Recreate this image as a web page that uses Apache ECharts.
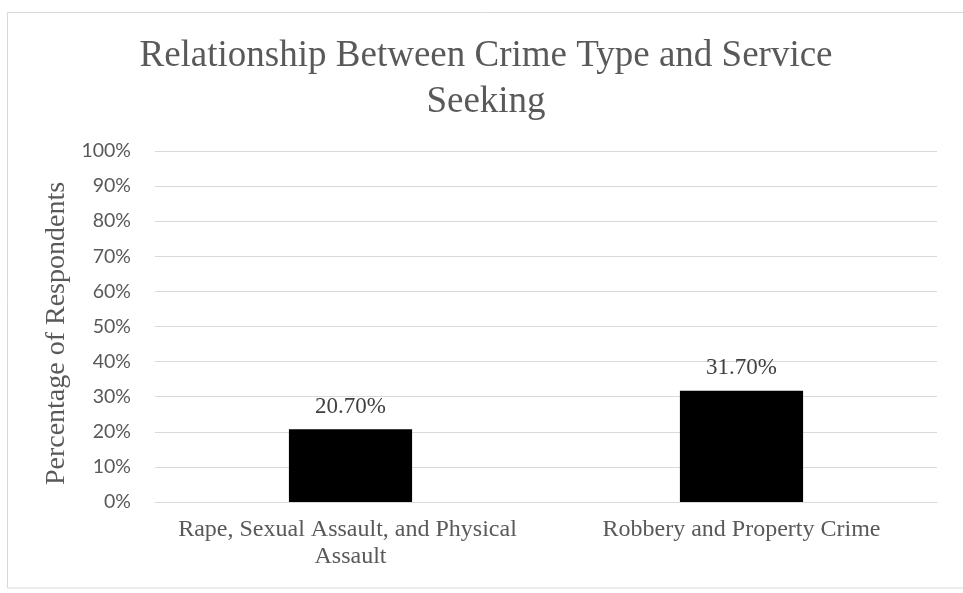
<!DOCTYPE html>
<html>
<head>
<meta charset="utf-8">
<title>Relationship Between Crime Type and Service Seeking</title>
<script src="https://cdn.jsdelivr.net/npm/echarts@6/dist/echarts.min.js"></script>
<style>
  html, body { margin: 0; padding: 0; background: #ffffff; }
  #chart { width: 963px; height: 593px; }
</style>
</head>
<body>
<div id="chart"></div>
<script>
// Crime categories and share of respondents who sought services (%)
const categories = ['Rape, Sexual Assault, and Physical Assault', 'Robbery and Property Crime'];
const seekingPercent = [20.7, 31.7];

// Value axis ticks (%)
const yMin = 0;
const yMax = 100;
const yStep = 10;

const TEXT = '#595959';
const SERIF = '"Liberation Serif", "Times New Roman", serif';

const chart = echarts.init(document.getElementById('chart'));

chart.setOption({
  animation: false,
  backgroundColor: '#ffffff',
  title: {
    text: 'Relationship Between Crime Type and Service\nSeeking',
    left: 481,
    top: 28,
    textAlign: 'center',
    textStyle: {
      fontFamily: SERIF,
      fontSize: 37,
      fontWeight: 'normal',
      lineHeight: 46,
      color: TEXT
    }
  },
  graphic: [{
    type: 'rect',
    silent: true,
    shape: { x: 7.5, y: 12.5, width: 970, height: 575.5 },
    style: { fill: 'none', stroke: '#d9d9d9', lineWidth: 1 }
  }],
  grid: { left: 155, right: 26, top: 151, bottom: 91 },
  xAxis: {
    type: 'category',
    data: categories,
    axisLine: { show: true, lineStyle: { color: '#d9d9d9', width: 1 } },
    axisTick: { show: false },
    axisLabel: {
      interval: 0,
      margin: 14,
      width: 370,
      overflow: 'break',
      fontFamily: SERIF,
      fontSize: 24,
      lineHeight: 27,
      color: TEXT
    }
  },
  yAxis: {
    type: 'value',
    min: yMin,
    max: yMax,
    interval: yStep,
    name: 'Percentage of Respondents',
    nameLocation: 'middle',
    nameGap: 80,
    nameTextStyle: {
      fontFamily: SERIF,
      fontSize: 28,
      color: TEXT,
      padding: [0, 14, 0, 0]
    },
    axisLine: { show: false },
    axisTick: { show: false },
    splitLine: { lineStyle: { color: '#d9d9d9', width: 1 } },
    axisLabel: {
      margin: 24,
      formatter: v => v + '%',
      fontFamily: 'Lato, "Liberation Sans", sans-serif',
      fontSize: 19.5,
      color: TEXT
    }
  },
  series: [{
    type: 'bar',
    data: seekingPercent,
    barWidth: '31.5%',
    itemStyle: { color: '#000000' },
    label: {
      show: true,
      position: 'top',
      distance: 11,
      formatter: p => p.value.toFixed(2) + '%',
      fontFamily: SERIF,
      fontSize: 23,
      color: '#404040'
    }
  }]
});
</script>
</body>
</html>
